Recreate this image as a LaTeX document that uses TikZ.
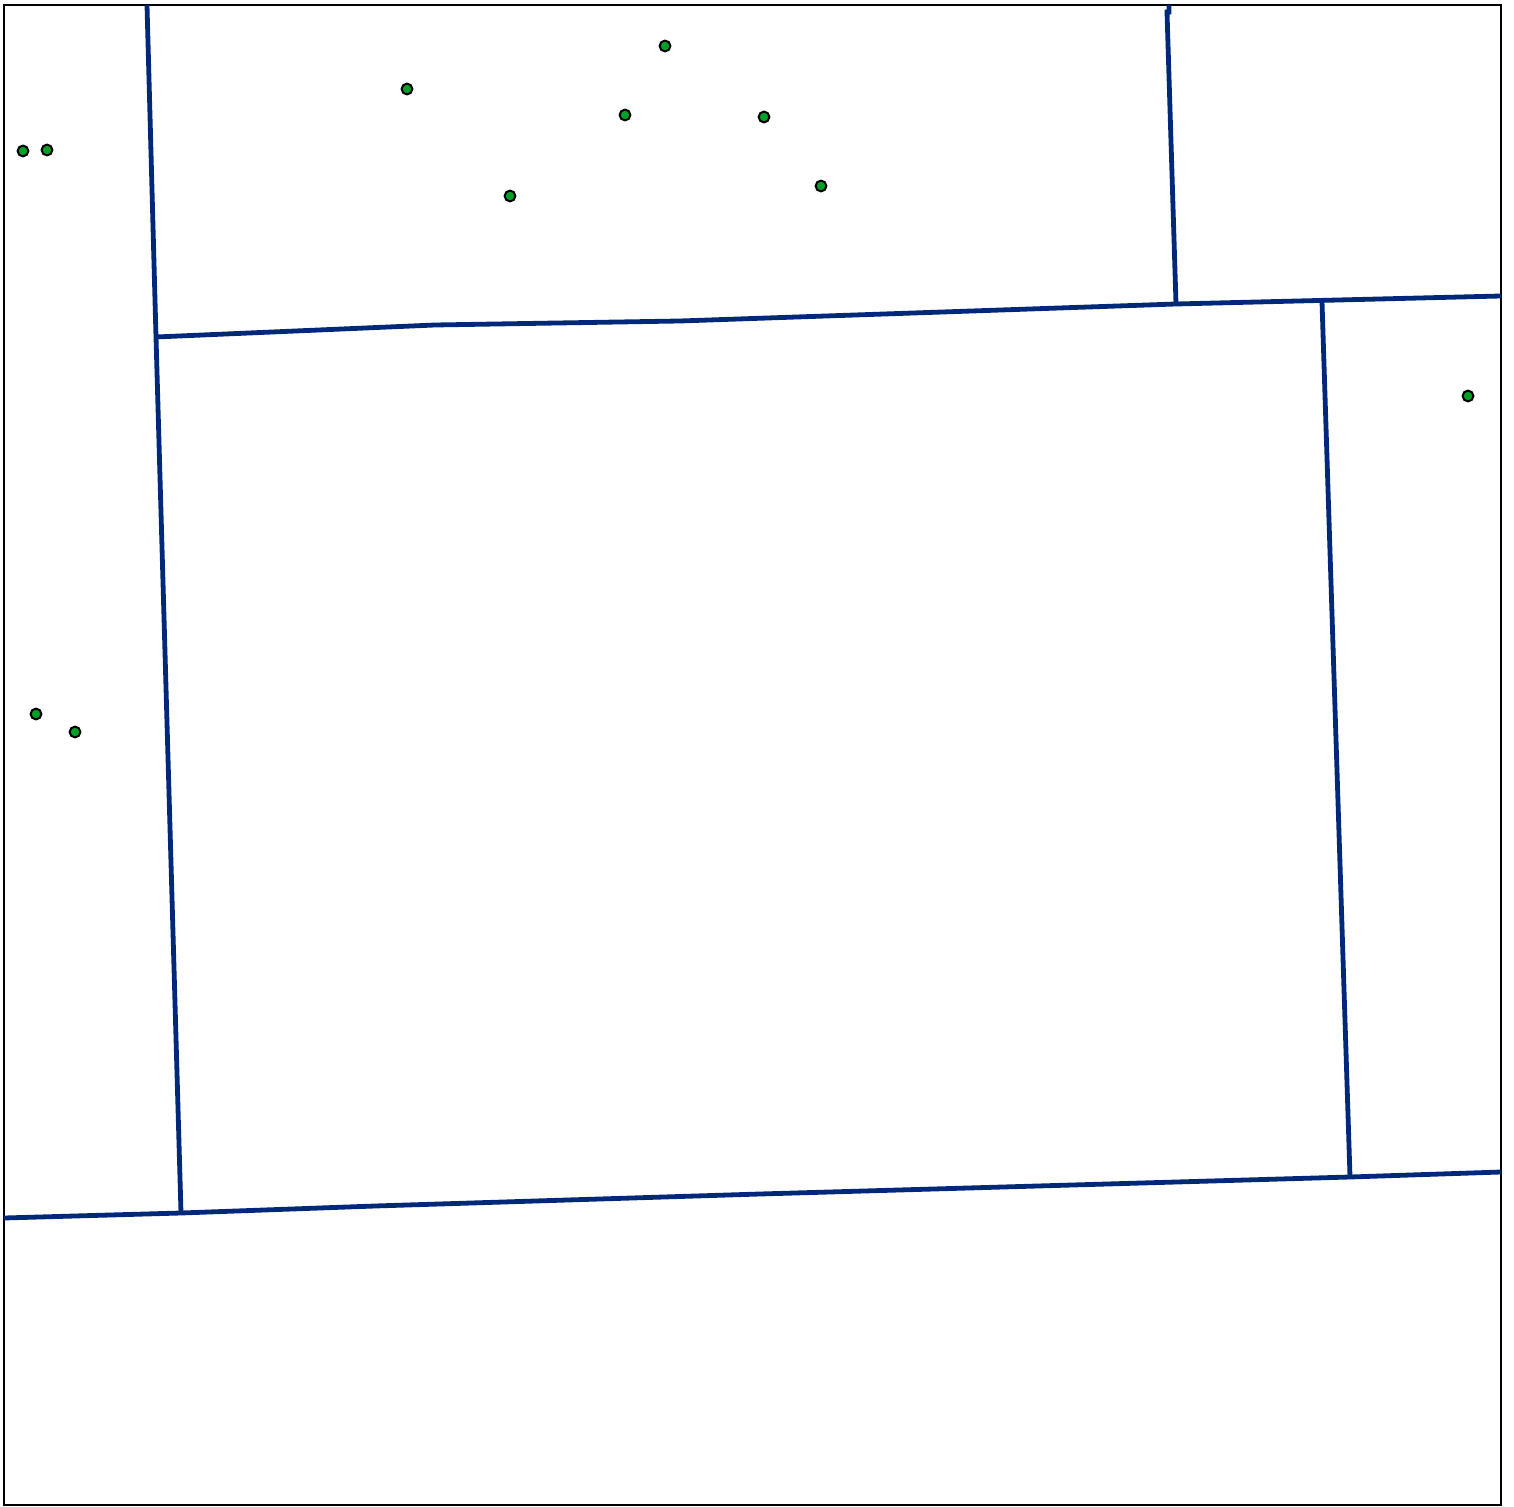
\documentclass[tikz,border=0pt]{standalone}
\definecolor{wall}{RGB}{0,40,120}
\definecolor{dotgreen}{RGB}{0,160,40}
\tikzset{
  wallline/.style={draw=wall, line width=2.4pt, line join=miter},
  frameline/.style={draw=black, line width=1.1pt},
  site/.style={circle, fill=dotgreen, draw=black, line width=1pt, inner sep=0pt, minimum size=5.4pt}
}
\begin{document}
\begin{tikzpicture}[x=0.5pt,y=-0.5pt]
\useasboundingbox (0,0) rectangle (1514,1507);
\draw[frameline] (4,5) rectangle (1501,1505);
% coordinates
\coordinate (a) at (147,5);
\coordinate (b) at (156,337);
\coordinate (c) at (181,1213);
\coordinate (d) at (1176,304);
\coordinate (e) at (1501,296);
\coordinate (f) at (1169,5);
\coordinate (g) at (1322,302);
\coordinate (h) at (1350,1177);
\coordinate (i) at (4,1218);
\coordinate (j) at (1501,1172);
% walls
\draw[wallline] (a) -- (b) -- (c);
\draw[wallline] (b) -- (435,325) -- (680,321) -- (d) -- (e);
\draw[wallline] (f) -- (1169,12) -- (1167,12) -- (d);
\draw[wallline] (g) -- (h);
\draw[wallline] (i) -- (c) -- (375,1206) -- (760,1194) -- (h) -- (j);
% sites
\node[site] (s1) at (23,151) {};
\node[site] (s2) at (47,150) {};
\node[site] (s3) at (407,89) {};
\node[site] (s4) at (665,46) {};
\node[site] (s5) at (625,115) {};
\node[site] (s6) at (764,117) {};
\node[site] (s7) at (510,196) {};
\node[site] (s8) at (821,186) {};
\node[site] (s9) at (1468,396) {};
\node[site] (s10) at (36,714) {};
\node[site] (s11) at (75,732) {};
\end{tikzpicture}
\end{document}
